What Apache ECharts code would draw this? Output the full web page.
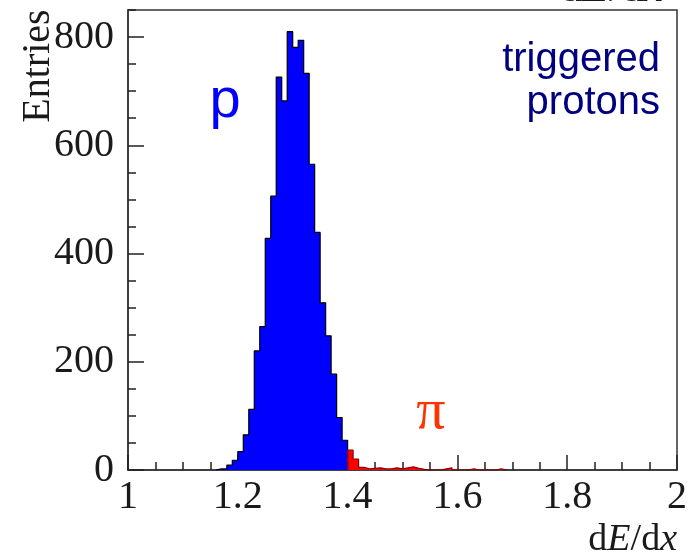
<!DOCTYPE html>
<html>
<head>
<meta charset="UTF-8">
<title>dE/dx triggered protons</title>
<script type="text/javascript" src="https://cdn.jsdelivr.net/npm/echarts@6/dist/echarts.min.js"></script>
</head>
<body style="margin:0;background:#fff;">
<div id="main" style="width:695px;height:559px;"></div>

<script type="text/javascript">
// histogram bins, width 0.01 in dE/dx
var binWidth = 0.01;
// blue: protons, first bin starts at 1.16
var protonStart = 1.16;
var protonCounts = [2, 2, 9, 18, 34, 65, 112, 220, 265, 428, 506, 726, 682, 810,
                    781, 794, 733, 565, 439, 309, 248, 177, 97, 55];
// red: pion tail, first bin starts at 1.40
var pionStart = 1.40;
var pionCounts = [37, 20, 5, 2, 3, 4, 2, 2, 4, 2, 4, 6, 3, 1, 0, 0, 0, 2, 4,
                  0, 0, 0, 2, 0, 0, 0, 0, 2, 0];
// axis ticks
var xTicks = [1, 1.2, 1.4, 1.6, 1.8, 2];
var yTicks = [0, 200, 400, 600, 800];
var yMax = 850;

// turn bin counts into a stepped outline
function stepLine(start, counts) {
  var pts = [[start, 0]];
  for (var i = 0; i < counts.length; i++) {
    var lo = +(start + i * binWidth).toFixed(3);
    var hi = +(start + (i + 1) * binWidth).toFixed(3);
    pts.push([lo, counts[i]]);
    pts.push([hi, counts[i]]);
  }
  pts.push([+(start + counts.length * binWidth).toFixed(3), 0]);
  return pts;
}

var serif = 'Liberation Serif';
var mychart = echarts.init(document.getElementById('main'));

var option = {
  animation: false,
  backgroundColor: '#fff',
  grid: {
    left: 128, right: 18, top: 10, bottom: 89,
    show: true, borderColor: '#333', borderWidth: 1.5
  },
  xAxis: {
    type: 'value',
    min: xTicks[0],
    max: xTicks[xTicks.length - 1],
    interval: xTicks[1] - xTicks[0],
    axisLine: { lineStyle: { color: '#333', width: 1.5 } },
    axisTick: { inside: true, length: 15, lineStyle: { color: '#222', width: 1.5 } },
    minorTick: { show: true, splitNumber: 4, length: 8, lineStyle: { color: '#222', width: 1.5 } },
    splitLine: { show: false },
    axisLabel: { fontFamily: serif, fontSize: 40, color: '#1a1a1a', margin: 7,
                 formatter: function (v) { return String(+v.toFixed(1)); } }
  },
  yAxis: [{
    type: 'value',
    min: yTicks[0],
    max: yMax,
    interval: yTicks[1] - yTicks[0],
    axisLine: { show: true, lineStyle: { color: '#333', width: 1.5 } },
    axisTick: { show: true, inside: true, length: 16, lineStyle: { color: '#222', width: 1.5 } },
    splitLine: { show: false },
    axisLabel: { fontFamily: serif, fontSize: 40, color: '#1a1a1a', margin: 14, showMaxLabel: false }
  }, {
    // minor ticks only
    type: 'value',
    position: 'left',
    min: yTicks[0],
    max: yMax,
    interval: 50,
    axisLine: { show: false },
    axisTick: { show: true, inside: true, length: 8, lineStyle: { color: '#222', width: 1.5 } },
    splitLine: { show: false },
    axisLabel: { show: false }
  }],
  series: [{
    name: 'protons',
    type: 'line',
    data: stepLine(protonStart, protonCounts),
    showSymbol: false,
    lineStyle: { color: '#000', width: 1.2 },
    areaStyle: { color: '#0000ff', opacity: 1 },
    z: 2
  }, {
    name: 'pions',
    type: 'line',
    data: stepLine(pionStart, pionCounts),
    showSymbol: false,
    lineStyle: { color: '#8b0000', width: 1.2 },
    areaStyle: { color: '#ff0000', opacity: 1 },
    z: 2
  }],
  graphic: [
    { type: 'text', x: 38, y: 66, rotation: Math.PI / 2,
      style: { text: 'Entries', font: '40px "Liberation Serif"', fill: '#1a1a1a',
               textAlign: 'center', textVerticalAlign: 'middle' } },
    { type: 'text', x: 225, y: 130,
      style: { text: 'p', font: '56px "Liberation Sans"', fill: '#0000ff',
               textAlign: 'center', textVerticalAlign: 'bottom' } },
    { type: 'text', x: 431, y: 413,
      style: { text: 'π', font: '58px "Liberation Serif"', fill: '#ff3300',
               textAlign: 'center', textVerticalAlign: 'middle' } },
    { type: 'text', x: 660, y: 60,
      style: { text: 'triggered', font: '40px "Liberation Sans"', fill: '#000080',
               textAlign: 'right', textVerticalAlign: 'middle' } },
    { type: 'text', x: 660, y: 103,
      style: { text: 'protons', font: '40px "Liberation Sans"', fill: '#000080',
               textAlign: 'right', textVerticalAlign: 'middle' } },
    { type: 'text', x: 677, y: 540,
      style: { text: '{n|d}{i|E}{n|/d}{i|x}', textAlign: 'right', textVerticalAlign: 'middle',
               rich: { n: { font: '38px "Liberation Serif"', fill: '#1a1a1a' },
                       i: { font: 'italic 38px "Liberation Serif"', fill: '#1a1a1a' } } } },
    { type: 'text', x: 663, y: -11,
      style: { text: '{n|d}{i|E}{n|/d}{i|x}', textAlign: 'right', textVerticalAlign: 'middle',
               rich: { n: { font: '44px "Liberation Serif"', fill: '#1a1a1a' },
                       i: { font: 'italic 44px "Liberation Serif"', fill: '#1a1a1a' } } } }
  ]
};

mychart.setOption(option);
</script>
</body>
</html>
